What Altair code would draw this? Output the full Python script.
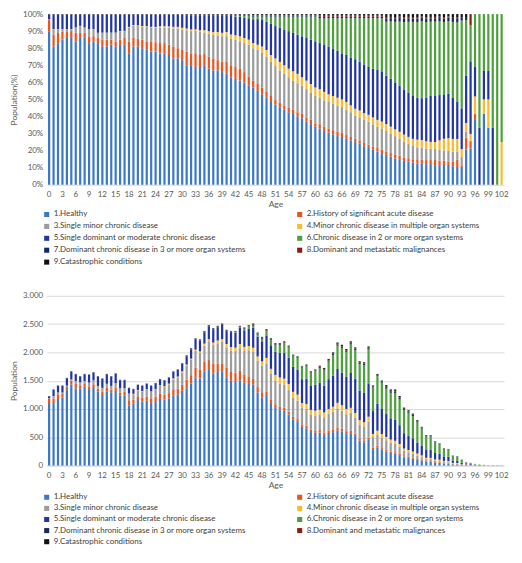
import altair as alt
import pandas as pd

ages = list(range(0, 103))
x_ticks = [0, 3, 6, 9, 12, 15, 18, 21, 24, 27, 30, 33, 36, 39, 42, 45, 48, 51,
           54, 57, 60, 63, 66, 69, 72, 75, 78, 81, 84, 87, 90, 93, 96, 99, 102]
pct_ticks = [0, 0.1, 0.2, 0.3, 0.4, 0.5, 0.6, 0.7, 0.8, 0.9, 1.0]
count_ticks = [0, 500, 1000, 1500, 2000, 2500, 3000]

categories = [
    "1.Healthy",
    "2.History of significant acute disease",
    "3.Single minor chronic disease",
    "4.Minor chronic disease in multiple organ systems",
    "5.Single dominant or moderate chronic disease",
    "6.Chronic disease in 2 or more organ systems",
    "7.Dominant chronic disease in 3 or more organ systems",
    "8.Dominant and metastatic malignances",
    "9.Catastrophic conditions",
]
colors = ["#3C78C8", "#E9541F", "#9C9C9C", "#FDB92E", "#2034A6",
          "#4EA03C", "#16275E", "#8B1A10", "#111111"]

healthy = [1105, 1089, 1174, 1203, 1333, 1434, 1361, 1359, 1393, 1336,
           1386, 1311, 1247, 1312, 1296, 1320, 1242, 1242, 1059, 1098,
           1158, 1132, 1146, 1104, 1139, 1178, 1163, 1186, 1232, 1258,
           1321, 1365, 1453, 1553, 1539, 1666, 1690, 1628, 1655, 1657,
           1560, 1499, 1476, 1507, 1464, 1441, 1431, 1293, 1206, 1229,
           1103, 1018, 985, 966, 901, 813, 772, 684, 660, 592,
           578, 582, 543, 575, 590, 620, 598, 556, 571, 522,
           442, 411, 453, 290, 316, 278, 249, 222, 208, 184,
           143, 132, 119, 100, 86, 65, 65, 49, 45, 35,
           34, 19, 17, 11, 12, 10, 11, 0, 5, 2,
           0, 0, 0]
acute = [80, 94, 85, 64, 54, 67, 81, 47, 49, 64,
         50, 47, 62, 65, 47, 49, 45, 61, 96, 68,
         64, 71, 72, 85, 80, 92, 91, 94, 117, 102,
         109, 156, 145, 180, 156, 167, 174, 170, 148, 151,
         168, 167, 167, 173, 146, 137, 100, 94, 91, 84,
         67, 65, 54, 55, 53, 49, 48, 44, 45, 42,
         34, 44, 43, 47, 50, 54, 53, 52, 44, 42,
         37, 36, 42, 28, 32, 30, 28, 27, 27, 25,
         20, 20, 18, 16, 14, 13, 13, 13, 10, 8,
         6, 5, 7, 1, 4, 2, 1, 0, 0, 0,
         0, 0, 0]
minor = [6, 40, 28, 21, 23, 17, 49, 63, 49, 64,
         66, 47, 62, 65, 63, 82, 76, 61, 110, 95,
         107, 106, 123, 113, 124, 138, 136, 156, 175, 196,
         217, 244, 270, 293, 301, 286, 335, 340, 358, 377,
         360, 369, 381, 395, 415, 460, 477, 470, 466, 494,
         450, 422, 411, 406, 382, 333, 328, 290, 295, 267,
         272, 274, 267, 292, 310, 337, 320, 299, 318, 282,
         249, 246, 284, 184, 203, 188, 171, 155, 148, 123,
         97, 83, 73, 60, 48, 35, 35, 28, 25, 18,
         18, 10, 8, 5, 2, 0, 0, 0, 0, 0,
         0, 0, 0]
multi = [0, 3, 3, 2, 2, 2, 2, 2, 2, 2,
         2, 2, 2, 2, 2, 2, 2, 2, 7, 7,
         7, 7, 7, 7, 7, 12, 12, 12, 17, 17,
         18, 20, 21, 23, 22, 36, 37, 36, 49, 50,
         60, 60, 60, 74, 73, 75, 75, 71, 80, 96,
         90, 97, 108, 110, 106, 108, 106, 88, 89, 83,
         85, 88, 86, 85, 90, 98, 96, 93, 88, 84,
         74, 73, 84, 57, 65, 60, 57, 54, 54, 49,
         41, 39, 37, 36, 31, 24, 22, 17, 22, 21,
         22, 13, 12, 5, 3, 2, 3, 0, 1, 1,
         0, 0, 1]
dominant = [31, 112, 120, 120, 130, 139, 119, 101, 119, 136,
            138, 165, 159, 168, 164, 169, 142, 141, 96, 80,
            87, 92, 95, 99, 103, 103, 101, 105, 117, 120,
            136, 146, 166, 180, 190, 202, 224, 231, 235, 250,
            228, 262, 262, 284, 293, 311, 351, 353, 353, 398,
            416, 411, 433, 461, 466, 441, 444, 421, 446, 433,
            459, 477, 474, 528, 550, 598, 576, 567, 615, 606,
            525, 520, 590, 404, 478, 443, 405, 377, 370, 332,
            271, 254, 234, 196, 168, 137, 145, 115, 104, 79,
            76, 42, 36, 25, 16, 20, 5, 6, 2, 1,
            2, 0, 0]
chronic = [0, 0, 0, 0, 0, 0, 0, 0, 0, 0,
           0, 0, 0, 0, 0, 0, 0, 0, 0, 0,
           0, 0, 0, 0, 0, 0, 0, 0, 0, 0,
           0, 0, 0, 0, 0, 0, 0, 0, 0, 0,
           0, 0, 12, 12, 24, 37, 38, 35, 45, 73,
           90, 119, 141, 165, 180, 186, 203, 202, 223, 225,
           247, 256, 267, 311, 360, 413, 438, 443, 505, 501,
           470, 493, 600, 418, 486, 466, 448, 451, 477, 461,
           404, 405, 395, 356, 308, 239, 234, 186, 169, 129,
           125, 78, 76, 54, 19, 10, 9, 12, 4, 2,
           4, 6, 3]
dominant3 = [4, 4, 3, 3, 5, 5, 5, 5, 5, 5,
             5, 5, 5, 5, 5, 5, 5, 5, 4, 4,
             4, 4, 4, 4, 4, 4, 4, 4, 4, 4,
             5, 8, 8, 9, 9, 10, 10, 10, 10, 10,
             10, 10, 10, 10, 10, 10, 15, 14, 14, 14,
             14, 13, 13, 13, 13, 12, 12, 11, 11, 10,
             10, 18, 17, 19, 20, 22, 21, 21, 22, 21,
             18, 18, 21, 14, 16, 15, 28, 27, 27, 25,
             20, 20, 18, 16, 14, 11, 11, 8, 8, 6,
             6, 4, 4, 2, 1, 0, 0, 0, 0, 0,
             0, 0, 0]
malignant = [0, 0, 0, 0, 0, 0, 0, 0, 0, 0,
             0, 0, 0, 0, 0, 0, 0, 0, 0, 0,
             0, 0, 0, 0, 0, 0, 0, 0, 0, 0,
             0, 4, 4, 4, 4, 5, 5, 5, 5, 5,
             5, 4, 4, 5, 5, 5, 10, 9, 9, 10,
             9, 9, 9, 8, 8, 8, 8, 7, 7, 7,
             7, 11, 11, 11, 12, 13, 13, 12, 13, 12,
             11, 11, 13, 8, 10, 9, 12, 10, 11, 10,
             9, 8, 8, 7, 5, 4, 4, 4, 3, 2,
             2, 1, 1, 0, 0, 3, 0, 0, 0, 0,
             0, 0, 0]
catastrophic = [2, 3, 2, 2, 3, 3, 3, 3, 3, 3,
                3, 3, 3, 3, 3, 3, 3, 3, 3, 3,
                3, 3, 3, 3, 3, 3, 3, 3, 3, 3,
                4, 7, 8, 8, 9, 8, 10, 10, 10, 10,
                9, 9, 8, 10, 10, 9, 13, 11, 11, 12,
                11, 11, 11, 11, 11, 10, 9, 8, 9, 8,
                8, 15, 17, 17, 18, 20, 20, 17, 19, 18,
                17, 17, 19, 13, 14, 14, 24, 22, 23, 19,
                19, 16, 16, 14, 10, 10, 9, 7, 6, 6,
                4, 3, 3, 2, 1, 0, 0, 0, 0, 0,
                0, 0, 0]

series = [healthy, acute, minor, multi, dominant, chronic,
          dominant3, malignant, catastrophic]

rows = []
for i, (cat, vals) in enumerate(zip(categories, series)):
    for age, v in zip(ages, vals):
        rows.append({"age": age, "category": cat, "idx": i + 1, "count": v})
df = pd.DataFrame(rows)

FONT = "Lato"
TXT = "#595959"


def make_legend(y, row_pad):
    return alt.Legend(
        title=None, orient="none", legendX=-4, legendY=y, columns=2,
        direction="horizontal", columnPadding=50, symbolType="square",
        symbolSize=26, symbolStrokeWidth=0, labelFontSize=8,
        labelColor="#404040", rowPadding=row_pad, labelLimit=400,
        symbolOffset=0, labelOffset=3,
    )


def x_enc():
    return alt.X(
        "age:O", title="Age",
        scale=alt.Scale(paddingInner=0.5, paddingOuter=0.3),
        axis=alt.Axis(values=x_ticks, labelAngle=0, labelFontSize=8,
                      labelColor=TXT, ticks=False, domainColor="#d9d9d9",
                      titleFontSize=8.5, titleFontWeight="normal",
                      titleColor=TXT, titlePadding=1, labelPadding=6),
    )


color_scale = alt.Scale(domain=categories, range=colors)

top = alt.Chart(df).mark_bar().encode(
    x=x_enc(),
    y=alt.Y("count:Q", stack="normalize", title="Population(%)",
            scale=alt.Scale(domain=[0, 1]),
            axis=alt.Axis(values=pct_ticks, format=".0%", grid=False,
                          domain=False, ticks=False, labelFontSize=8,
                          labelColor=TXT, titleFontSize=8.5,
                          titleFontWeight="normal", titleColor=TXT,
                          labelPadding=4, titlePadding=4, minExtent=24,
                          maxExtent=24)),
    color=alt.Color("category:N", scale=color_scale,
                    legend=make_legend(198, 4)),
    order=alt.Order("idx:Q", sort="ascending"),
).properties(width=461, height=172)

bottom = alt.Chart(df).mark_bar().encode(
    x=x_enc(),
    y=alt.Y("count:Q", stack="zero", title="Population",
            scale=alt.Scale(domain=[0, 3000]),
            axis=alt.Axis(values=count_ticks,
                          labelExpr="replace(format(datum.value, ','), ',', '.')",
                          grid=True, gridColor="#d9d9d9", domain=False,
                          ticks=False, labelFontSize=8, labelColor=TXT,
                          titleFontSize=8.5, titleFontWeight="normal",
                          titleColor=TXT, labelPadding=4, titlePadding=4,
                          minExtent=24, maxExtent=24)),
    color=alt.Color("category:N", scale=color_scale,
                    legend=make_legend(199, 3.2)),
    order=alt.Order("idx:Q", sort="ascending"),
).properties(width=461, height=171)

chart = alt.vconcat(top, bottom, spacing=26).resolve_legend(
    color="independent"
).properties(
    padding={"left": 2, "top": 0, "right": 5, "bottom": 0},
    background="white",
).configure(font=FONT).configure_view(stroke=None)

chart.save("out.html", embed_options={"renderer": "svg", "actions": False})
